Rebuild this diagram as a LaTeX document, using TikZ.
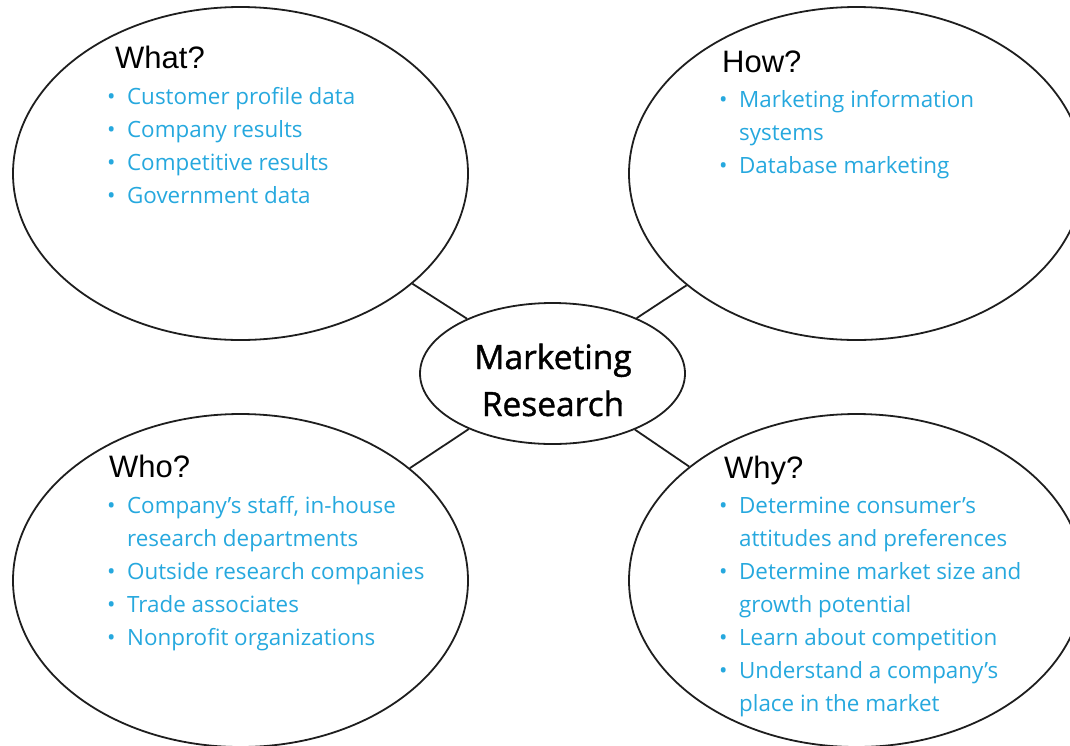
\documentclass[tikz,border=0pt]{standalone}
\usepackage{fontspec}
\setmainfont{Open Sans}
\newfontfamily\titlefont{Liberation Sans}
\newfontfamily\midfont{Open Sans}[FakeBold=1.2]
\usetikzlibrary{shapes.geometric}
\definecolor{itemblue}{RGB}{38,168,222}
\definecolor{linegray}{RGB}{30,30,30}
\tikzset{
  bigoval/.style={draw=linegray, line width=1.8pt, ellipse, inner sep=0pt,
    minimum width=455pt, minimum height=333pt},
  midoval/.style={draw=linegray, line width=1.8pt, ellipse, inner sep=0pt,
    minimum width=265pt, minimum height=141pt},
  heading/.style={anchor=base west, inner sep=0pt, font=\titlefont\fontsize{31}{33}\selectfont, text=black},
  itemlist/.style={anchor=base west, inner sep=0pt, font=\fontsize{22.4}{33}\selectfont, text=itemblue},
  link/.style={draw=linegray, line width=1.8pt}
}
\newcommand{\bl}{\textbullet}
\begin{document}
\begin{tikzpicture}[x=1pt,y=-1pt]
\useasboundingbox (0,0) rectangle (1070,745);
% ovals
\node[bigoval] (tl) at (240.5,173.5) {};
\node[bigoval] (tr) at (856.5,173.5) {};
\node[bigoval] (bl) at (240.5,580.5) {};
\node[bigoval] (br) at (856.5,580.5) {};
\node[midoval] (mid) at (552.5,373.5) {};
\node[anchor=base, inner sep=0pt, align=center, font=\midfont\fontsize{33.5}{47}\selectfont] (midtext) at (553,416) {Marketing\\Research};
% links
\draw[link] (mid) -- (tl);
\draw[link] (mid) -- (tr);
\draw[link] (mid) -- (bl);
\draw[link] (mid) -- (br);
% headings
\node[heading] (what) at (115,68) {What?};
\node[heading] (how) at (722,72) {How?};
\node[heading] (who) at (109,477) {Who?};
\node[heading] (why) at (724,478) {Why?};
% lists
\node[itemlist] (whatlist) at (107,104) {\begin{tabular}[t]{@{}l@{\hspace{11.5pt}}l@{}}
\bl & Customer profile data\\
\bl & Company results\\
\bl & Competitive results\\
\bl & Government data
\end{tabular}};
\node[itemlist] (howlist) at (719,107) {\begin{tabular}[t]{@{}l@{\hspace{11.5pt}}l@{}}
\bl & Marketing information\\
 & systems\\
\bl & Database marketing
\end{tabular}};
\node[itemlist] (wholist) at (107,513) {\begin{tabular}[t]{@{}l@{\hspace{11.5pt}}l@{}}
\bl & Company’s staff, in-house\\
 & research departments\\
\bl & Outside research companies\\
\bl & Trade associates\\
\bl & Nonprofit organizations
\end{tabular}};
\node[itemlist] (whylist) at (719,513) {\begin{tabular}[t]{@{}l@{\hspace{11.5pt}}l@{}}
\bl & Determine consumer’s\\
 & attitudes and preferences\\
\bl & Determine market size and\\
 & growth potential\\
\bl & Learn about competition\\
\bl & Understand a company’s\\
 & place in the market
\end{tabular}};
\end{tikzpicture}
\end{document}
